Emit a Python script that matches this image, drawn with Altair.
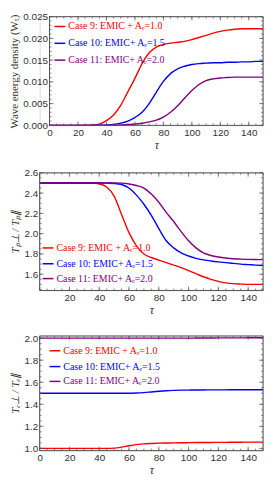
import altair as alt
import pandas as pd

# ---------------- data ----------------
tau = list(range(0, 151, 5))
cases = ["Case 9", "Case 10", "Case 11"]
colors = ["#ff0000", "#0000ff", "#800080"]
legend_labels = ["Case 9: EMIC + A\u2091=1.0", "Case 10: EMIC+ A\u2091=1.5", "Case 11: EMIC+ A\u2091=2.0"]

# Wave energy density W_T
w_case9 = [0, 0, 0, 0, 0, 0.00002, 0.00008, 0.0003, 0.0011, 0.0024, 0.0046, 0.0077, 0.0108,
           0.0142, 0.0167, 0.0180, 0.0186, 0.0189, 0.0191, 0.0193, 0.0197, 0.0202, 0.0207,
           0.0212, 0.0216, 0.0219, 0.0221, 0.0222, 0.0222, 0.0222, 0.0222]
w_case10 = [0, 0, 0, 0, 0, 0, 0, 0.00003, 0.0001, 0.0002, 0.0005, 0.0010, 0.0018, 0.0030,
            0.0050, 0.0076, 0.0101, 0.0119, 0.0130, 0.0136, 0.0140, 0.0142, 0.0143, 0.0144,
            0.0144, 0.0145, 0.0145, 0.0146, 0.0146, 0.0147, 0.0147]
w_case11 = [0, 0, 0, 0, 0, 0, 0, 0, 0, 0.00003, 0.0001, 0.0002, 0.0003, 0.0005, 0.0008,
            0.0012, 0.0019, 0.0030, 0.0045, 0.0063, 0.0080, 0.0094, 0.0103, 0.0107, 0.0109,
            0.0110, 0.0111, 0.0111, 0.0111, 0.0111, 0.0111]

# Proton anisotropy T_p_perp / T_p_par
tp_case9 = [2.5, 2.5, 2.5, 2.5, 2.5, 2.5, 2.5, 2.498, 2.49, 2.46, 2.37, 2.19, 2.01, 1.88,
            1.80, 1.765, 1.74, 1.715, 1.69, 1.665, 1.635, 1.605, 1.575, 1.55, 1.53, 1.515,
            1.507, 1.503, 1.50, 1.50, 1.50]
tp_case10 = [2.5, 2.5, 2.5, 2.5, 2.5, 2.5, 2.5, 2.5, 2.5, 2.498, 2.495, 2.485, 2.45, 2.38,
             2.29, 2.18, 2.05, 1.93, 1.86, 1.81, 1.78, 1.757, 1.742, 1.731, 1.722, 1.714,
             1.707, 1.70, 1.695, 1.69, 1.686]
tp_case11 = [2.5, 2.5, 2.5, 2.5, 2.5, 2.5, 2.5, 2.5, 2.5, 2.5, 2.5, 2.498, 2.49, 2.475,
             2.45, 2.39, 2.31, 2.21, 2.12, 2.02, 1.93, 1.86, 1.81, 1.785, 1.77, 1.76, 1.753,
             1.749, 1.746, 1.745, 1.744]

# Electron anisotropy T_e_perp / T_e_par
te_case9 = [1.0, 1.0, 1.0, 1.0, 1.0, 1.0, 1.0, 1.0, 1.0, 1.0, 1.003, 1.012, 1.024, 1.034,
            1.041, 1.045, 1.048, 1.049, 1.050, 1.051, 1.052, 1.053, 1.054, 1.054, 1.055,
            1.055, 1.056, 1.056, 1.057, 1.057, 1.057]
te_case10 = [1.5, 1.5, 1.5, 1.5, 1.5, 1.5, 1.5, 1.5, 1.5, 1.5, 1.5, 1.5, 1.5, 1.502, 1.506,
             1.512, 1.518, 1.523, 1.526, 1.528, 1.529, 1.530, 1.530, 1.531, 1.531, 1.531,
             1.532, 1.532, 1.532, 1.532, 1.532]
te_case11 = [2.0] * 21 + [2.001, 2.001, 2.001, 2.002, 2.002, 2.002, 2.002, 2.003, 2.003, 2.003]

# ---------------- style ----------------
FRAME = "#555555"
LABEL = "#333333"
SANS = "Liberation Sans"
SERIF = "Liberation Serif"
W = 226  # common panel width


def long_df(series):
    rows = []
    for case, vals in zip(cases, series):
        for t, v in zip(tau, vals):
            rows.append({"tau": t, "value": v, "case": case})
    return pd.DataFrame(rows)


def frange(a, b, step):
    out = []
    k = 0
    while True:
        v = round(a + k * step, 6)
        if v > b + 1e-9:
            break
        out.append(v)
        k += 1
    return out


def panel(series, inset, h, ydom, ymajor, yminor, yfmt, ytitle, ytitle_style,
          xlabels, legend_x, legend_y):
    w = W
    x0 = inset
    xdom = [0, 150]
    xs = alt.Scale(domain=xdom, range=[x0, w], nice=False, zero=False)
    ys = alt.Scale(domain=ydom, nice=False, zero=False)
    xaxis = alt.Axis(
        title="\u03c4", values=xlabels, ticks=False, domain=False, grid=False,
        labelFont=SANS, labelFontSize=10, labelColor=LABEL, labelPadding=2,
        labelFlush=False,
        titleFont=SERIF, titleFontSize=12, titleFontStyle="italic",
        titleFontWeight="normal", titleColor=LABEL, titlePadding=2)
    yaxis = alt.Axis(
        title=ytitle, values=ymajor, format=yfmt, ticks=False, domain=False,
        grid=False, labelFont=SANS, labelFontSize=10, labelColor=LABEL,
        labelPadding=2, labelFlush=False, offset=-x0,
        titleFont=SERIF, titleFontSize=11, titleFontStyle=ytitle_style,
        titleFontWeight="normal", titleColor=LABEL, titlePadding=3)
    df = long_df(series)
    lines = alt.Chart(df).mark_line(strokeWidth=1.4, interpolate="monotone").encode(
        x=alt.X("tau:Q", scale=xs, axis=xaxis),
        y=alt.Y("value:Q", scale=ys, axis=yaxis),
        color=alt.Color("case:N", scale=alt.Scale(domain=cases, range=colors), legend=None),
        detail="case:N",
    )
    one = pd.DataFrame({"a": [0]})
    layers = [lines]
    # frame
    fr = alt.Chart(one).mark_rule(color=FRAME, strokeWidth=1)
    layers.append(fr.encode(x=alt.value(x0), x2=alt.value(w), y=alt.value(0)))
    layers.append(fr.encode(x=alt.value(x0), x2=alt.value(w), y=alt.value(h)))
    layers.append(fr.encode(x=alt.value(x0), y=alt.value(0), y2=alt.value(h)))
    layers.append(fr.encode(x=alt.value(w), y=alt.value(0), y2=alt.value(h)))
    # inward ticks
    xmaj = [v for v in range(0, 151, 20)]
    xmin = [v for v in range(0, 151, 5)]
    for vals, ln in ((xmaj, 4), (xmin, 2)):
        d = alt.Chart(pd.DataFrame({"tau": vals})).mark_rule(color=FRAME, strokeWidth=0.7)
        xe = alt.X("tau:Q", scale=xs, axis=xaxis)
        layers.append(d.encode(x=xe, y=alt.value(h), y2=alt.value(h - ln)))
        layers.append(d.encode(x=xe, y=alt.value(0), y2=alt.value(ln)))
    for vals, ln in ((ymajor, 4), (yminor, 2)):
        vals = [v for v in vals if ydom[0] - 1e-9 <= v <= ydom[1] + 1e-9]
        d = alt.Chart(pd.DataFrame({"value": vals})).mark_rule(color=FRAME, strokeWidth=0.7)
        ye = alt.Y("value:Q", scale=ys, axis=yaxis)
        layers.append(d.encode(y=ye, x=alt.value(x0), x2=alt.value(x0 + ln)))
        layers.append(d.encode(y=ye, x=alt.value(w), x2=alt.value(w - ln)))
    # legend
    for lab, col, yy in zip(legend_labels, colors, legend_y):
        layers.append(alt.Chart(one).mark_rule(color=col, strokeWidth=1.5).encode(
            x=alt.value(x0 + legend_x), x2=alt.value(x0 + legend_x + 11), y=alt.value(yy)))
        layers.append(alt.Chart(one).mark_text(
            text=lab, color=col, font=SERIF, fontSize=10, align="left",
            baseline="middle").encode(x=alt.value(x0 + legend_x + 14), y=alt.value(yy)))
    return alt.layer(*layers).properties(width=w, height=h)


p1 = panel([w_case9, w_case10, w_case11], 10, 110, [0, 0.025],
           frange(0, 0.025, 0.005), frange(0, 0.025, 0.001), ".3f",
           "Wave energy density (W\u209c)", "normal",
           list(range(0, 141, 20)), 5, [10, 27, 44])
p2 = panel([tp_case9, tp_case10, tp_case11], 0, 119, [1.44, 2.6],
           frange(1.6, 2.6, 0.2), frange(1.45, 2.6, 0.05), ".1f",
           "T\u209a\u22a5 / T\u209a\u2225", "italic",
           list(range(20, 141, 20)), 3, [76, 92, 107])
p3 = panel([te_case9, te_case10, te_case11], 0, 116, [0.98, 2.02],
           frange(1.0, 2.0, 0.2), frange(1.0, 2.0, 0.05), ".1f",
           "T\u2091\u22a5 / T\u2091\u2225", "italic",
           list(range(0, 141, 20)), 10, [15, 31, 46])

chart = alt.vconcat(p1, p2, p3, spacing=16).properties(
    padding=0
).configure_view(strokeOpacity=0).configure(background="white")

chart.save("out.html", embed_options={"renderer": "svg", "actions": False})
